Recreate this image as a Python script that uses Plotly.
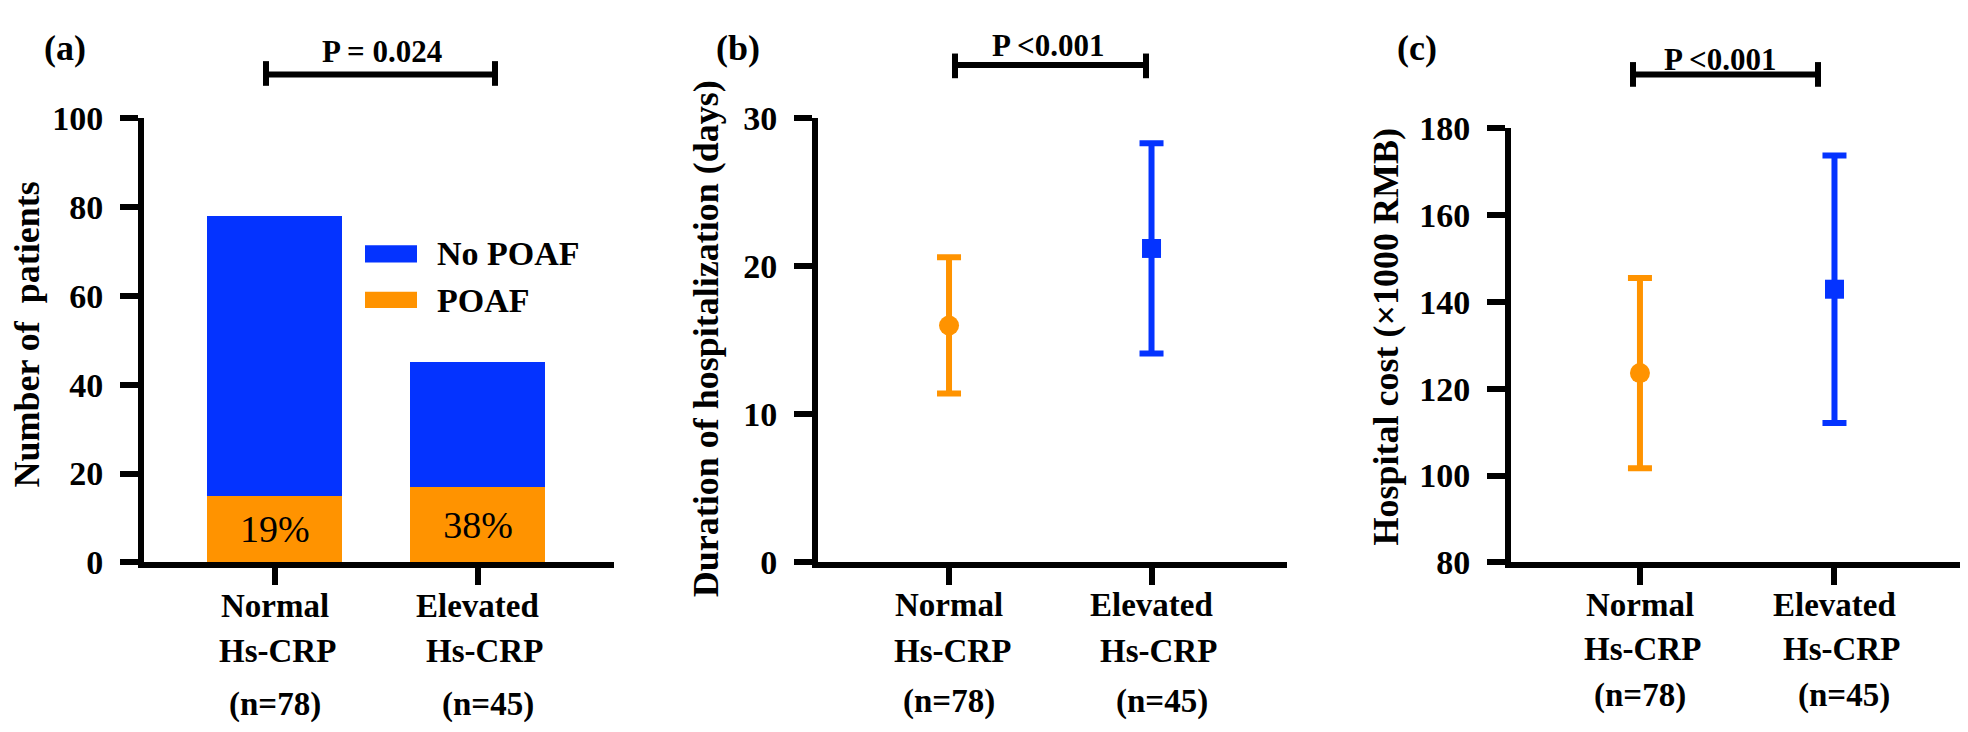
import plotly.graph_objects as go

# ---------------- data ----------------
categories = ["Normal", "Elevated"]
group_line2 = ["Hs-CRP", "Hs-CRP"]
group_n = ["(n=78)", "(n=45)"]

poaf_counts = [15, 17]
no_poaf_counts = [63, 28]
poaf_pct_labels = ["19%", "38%"]

los_mean = [16.0, 21.2]
los_sd = [4.6, 7.1]

cost_mean = [123.6, 142.9]
cost_sd = [21.9, 30.8]

p_labels = ["P = 0.024", "P <0.001", "P <0.001"]
panel_labels = ["(a)", "(b)", "(c)"]
y_titles = ["Number of \u00a0patients", "Duration of hospitalization (days)",
            "Hospital cost (\u00d71000 RMB)"]

ORANGE = "#FF9300"
BLUE = "#0433FF"
FONT = "Times New Roman, Liberation Serif, Tinos, Nimbus Roman, DejaVu Serif, serif"

W, H = 1968, 732


def fx(px):
    return px / W


def fy(py):
    return 1 - py / H


fig = go.Figure()

# ---------------- panel (a): stacked bars ----------------
fig.add_trace(go.Bar(
    x=[0, 1], y=poaf_counts, name="POAF", marker=dict(color=ORANGE, line=dict(width=0)),
    width=0.665, text=poaf_pct_labels, textposition="inside", insidetextanchor="middle",
    textangle=0, constraintext="none",
    textfont=dict(family=FONT, size=38, color="black"),
    xaxis="x", yaxis="y", showlegend=False, hoverinfo="skip"))
fig.add_trace(go.Bar(
    x=[0, 1], y=no_poaf_counts, name="No POAF", marker=dict(color=BLUE, line=dict(width=0)),
    width=0.665, xaxis="x", yaxis="y", showlegend=False, hoverinfo="skip"))

# ---------------- panel (b) and (c): mean ± SD ----------------
for xa, ya, means, sds in [("x2", "y2", los_mean, los_sd), ("x3", "y3", cost_mean, cost_sd)]:
    fig.add_trace(go.Scatter(
        x=[0], y=[means[0]], mode="markers",
        marker=dict(symbol="circle", size=20, color=ORANGE),
        error_y=dict(type="data", array=[sds[0]], color=ORANGE, thickness=6, width=12),
        xaxis=xa, yaxis=ya, showlegend=False))
    fig.add_trace(go.Scatter(
        x=[1], y=[means[1]], mode="markers",
        marker=dict(symbol="square", size=19, color=BLUE),
        error_y=dict(type="data", array=[sds[1]], color=BLUE, thickness=6, width=12),
        xaxis=xa, yaxis=ya, showlegend=False))

# ---------------- axes ----------------
tickfont = dict(family=FONT, size=34, color="black", weight="bold")
common_x = dict(showline=True, linecolor="black", linewidth=6, ticks="outside", ticklen=17,
                tickwidth=6, tickcolor="black", tickvals=[0, 1], showticklabels=False,
                showgrid=False, zeroline=False, fixedrange=True)
common_y = dict(showline=True, linecolor="black", linewidth=6, ticks="outside", ticklen=18,
                tickwidth=6, tickcolor="black", tickfont=tickfont, showgrid=False,
                zeroline=False, ticklabelstandoff=10, fixedrange=True)

# panel geometry (pixels)
panels = [
    dict(l=136, r=606, t=97, b=565, xr=[-0.645, 1.670], yr=[0, 100], dt=20,
         offs=[44, 91, 148]),
    dict(l=810, r=1279, t=97, b=565, xr=[-0.647, 1.669], yr=[0, 30], dt=10,
         offs=[43, 91, 144]),
    dict(l=1503, r=1957, t=107.5, b=565, xr=[-0.663, 1.671], yr=[80, 180], dt=20,
         offs=[43, 89, 138]),
]
layout_axes = {}
for i, p in enumerate(panels):
    sx = "" if i == 0 else str(i + 1)
    layout_axes["xaxis" + sx] = dict(common_x, domain=[fx(p["l"]), fx(p["r"])], range=p["xr"],
                                     anchor="y" + sx)
    layout_axes["yaxis" + sx] = dict(common_y, domain=[fy(p["b"]), fy(p["t"])], range=p["yr"],
                                     dtick=p["dt"], tick0=p["yr"][0], anchor="x" + sx)

annotations = []
shapes = []
bold = dict(family=FONT, color="black", weight="bold")

# x category labels (three lines)
xshifts = [[0, 3, 0], [0, 7, 10]]
for i, p in enumerate(panels):
    sx = "" if i == 0 else str(i + 1)
    for ci in range(2):
        lines = [categories[ci], group_line2[ci], group_n[ci]]
        for li, txt in enumerate(lines):
            annotations.append(dict(
                x=ci, xref="x" + sx, y=fy(p["b"] + 2 + p["offs"][li]), yref="paper",
                text=txt, showarrow=False, xanchor="center", yanchor="middle",
                xshift=xshifts[ci][li], font=dict(bold, size=33)))

# y titles
ytitle_pos = [(19, 325), (698, 330), (1378, 328)]
for (px, py), txt in zip(ytitle_pos, y_titles):
    annotations.append(dict(x=fx(px), y=fy(py), xref="paper", yref="paper", text=txt,
                            textangle=-90, showarrow=False, xanchor="center", yanchor="middle",
                            font=dict(bold, size=36)))

# panel labels
for (px, py), txt in zip([(57, 23), (730, 23), (1409, 23)], panel_labels):
    annotations.append(dict(x=fx(px), y=fy(py), xref="paper", yref="paper", text=txt,
                            showarrow=False, xanchor="center", yanchor="middle",
                            font=dict(bold, size=36)))

# significance brackets
brackets = [
    dict(x0=258, x1=487, y=51, c0=37, c1=63, tx=374, ty=27),
    dict(x0=947, x1=1138, y=41, c0=29, c1=55, tx=1040, ty=21),
    dict(x0=1625, x1=1810, y=51, c0=38, c1=64, tx=1712, ty=35),
]
for b, txt in zip(brackets, p_labels):
    ln = dict(color="black", width=6)
    shapes.append(dict(type="line", xref="paper", yref="paper", x0=fx(b["x0"]), x1=fx(b["x1"]),
                       y0=fy(b["y"]), y1=fy(b["y"]), line=ln))
    for xx in (b["x0"], b["x1"]):
        shapes.append(dict(type="line", xref="paper", yref="paper", x0=fx(xx), x1=fx(xx),
                           y0=fy(b["c0"]), y1=fy(b["c1"]), line=ln))
    annotations.append(dict(x=fx(b["tx"]), y=fy(b["ty"]), xref="paper", yref="paper", text=txt,
                            showarrow=False, xanchor="center", yanchor="middle",
                            font=dict(bold, size=31)))

# legend for panel (a)
legend_items = [("No POAF", BLUE, 231, 249, 240), ("POAF", ORANGE, 280, 297, 289)]
for name, col, y0, y1, yt in legend_items:
    shapes.append(dict(type="rect", xref="paper", yref="paper", x0=fx(357), x1=fx(409),
                       y0=fy(y1), y1=fy(y0), fillcolor=col, line=dict(width=0)))
    annotations.append(dict(x=fx(427), y=fy(yt), xref="paper", yref="paper", text=name,
                            showarrow=False, xanchor="left", yanchor="middle",
                            font=dict(bold, size=34)))

fig.update_layout(
    width=W, height=H, margin=dict(l=0, r=0, t=0, b=0),
    paper_bgcolor="white", plot_bgcolor="white",
    barmode="stack", showlegend=False,
    annotations=annotations, shapes=shapes,
    **layout_axes,
)

fig.write_html("out.html", config={"displayModeBar": False})
